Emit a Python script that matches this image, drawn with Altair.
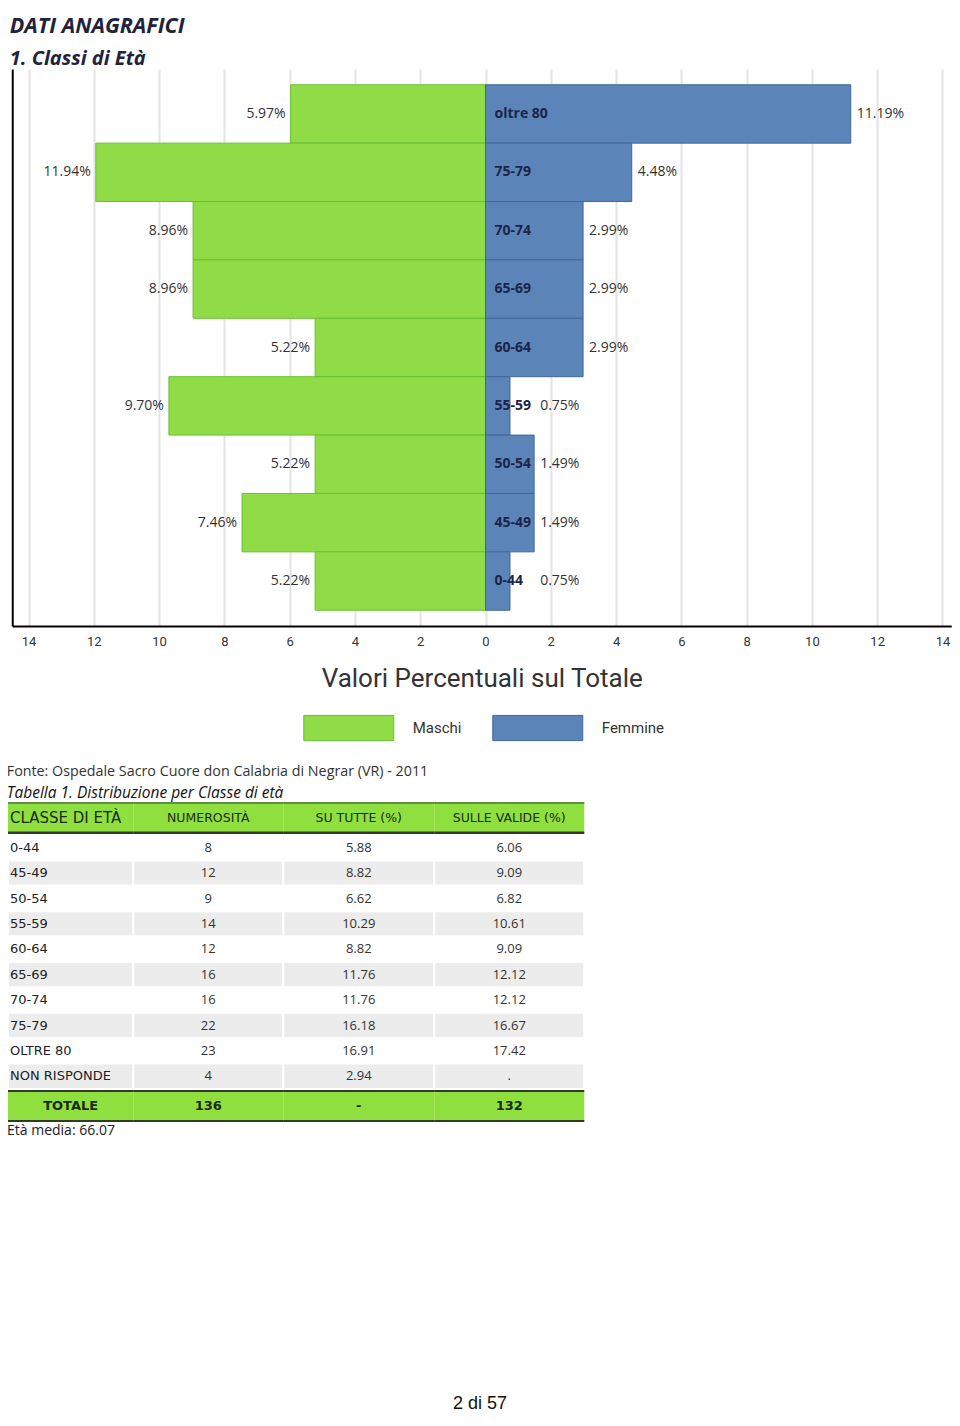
import altair as alt
import pandas as pd

# ---------------- data ----------------
age_classes = ["oltre 80", "75-79", "70-74", "65-69", "60-64", "55-59", "50-54", "45-49", "0-44"]
maschi_pct = [5.97, 11.94, 8.96, 8.96, 5.22, 9.70, 5.22, 7.46, 5.22]
femmine_pct = [11.19, 4.48, 2.99, 2.99, 2.99, 0.75, 1.49, 1.49, 0.75]
series = ["Maschi", "Femmine"]
x_tick_values = [-14, -12, -10, -8, -6, -4, -2, 0, 2, 4, 6, 8, 10, 12, 14]

table_headers = ["CLASSE DI ETÀ", "NUMEROSITÀ", "SU TUTTE (%)", "SULLE VALIDE (%)"]
table_classes = ["0-44", "45-49", "50-54", "55-59", "60-64", "65-69", "70-74", "75-79", "OLTRE 80", "NON RISPONDE"]
table_counts = ["8", "12", "9", "14", "12", "16", "16", "22", "23", "4"]
table_pct_all = ["5.88", "8.82", "6.62", "10.29", "8.82", "11.76", "11.76", "16.18", "16.91", "2.94"]
table_pct_valid = ["6.06", "9.09", "6.82", "10.61", "9.09", "12.12", "12.12", "16.67", "17.42", "."]
table_total = ["TOTALE", "136", "-", "132"]

page_title = "DATI ANAGRAFICI"
section_title = "1. Classi di Età"
axis_title = "Valori Percentuali sul Totale"
source_note = "Fonte: Ospedale Sacro Cuore don Calabria di Negrar (VR) - 2011"
table_caption = "Tabella 1. Distribuzione per Classe di età"
mean_age_note = "Età media: 66.07"
page_footer = "2 di 57"

# ---------------- styles ----------------
GREEN = "#8fdc46"
GREEN_EDGE = "#6bbf33"
BLUE = "#5b84b8"
BLUE_EDGE = "#40679c"
TABLE_GREEN = "#8fe03e"
ROW_GRAY = "#ececec"
FONT_UI = "Open Sans"
FONT_COND = "Roboto"
FONT_HEAD = "Open Sans"
FONT_TABLE = "Open Sans"
FONT_TABLE_CAPS = "DejaVu Sans"

W = 944
H = 557
LEG_H = 74
TW = 576
HDR_H = 32
BODY_H = 254
TOT_H = 32
FOOT_H = 257

# ---------------- pyramid ----------------
pyr_df = pd.DataFrame(
    [{"cls": c, "sex": "Maschi", "value": v} for c, v in zip(age_classes, maschi_pct)]
    + [{"cls": c, "sex": "Femmine", "value": v} for c, v in zip(age_classes, femmine_pct)]
)

xscale = alt.Scale(domain=[-14.5, 14.27], range=[4.25, 943.25], nice=False, zero=False)
yscale = alt.Scale(domain=age_classes, paddingInner=0, paddingOuter=0.27)
color_scale = alt.Scale(domain=series, range=[GREEN, BLUE])
stroke_scale = alt.Scale(domain=series, range=[GREEN_EDGE, BLUE_EDGE])

x_axis = alt.Axis(
    values=x_tick_values, labelExpr="abs(datum.value)",
    grid=True, gridColor="#e4e4e4", gridWidth=2,
    ticks=False, tickSize=0, domain=True, domainColor="#000000", domainWidth=2,
    labelFont=FONT_COND, labelFontSize=13, labelColor="#333333", labelPadding=9,
    title=axis_title, titleFont=FONT_COND, titleFontSize=26, titleFontWeight="normal",
    titleColor="#333333", titlePadding=17,
)
y_enc = alt.Y(
    "cls:N", scale=yscale, sort=age_classes,
    axis=alt.Axis(labels=False, ticks=False, title=None, grid=False,
                  domainColor="#000000", domainWidth=2, offset=-4.25),
)

base = alt.Chart(pyr_df).transform_calculate(
    signed="datum.sex === 'Maschi' ? -datum.value : datum.value",
    label="format(datum.value, '.2f') + '%'",
    lx="max(datum.value, 1.49)",
)

bars = base.mark_bar(strokeWidth=1).encode(
    x=alt.X("signed:Q", scale=xscale, axis=x_axis),
    x2=alt.datum(0),
    y=y_enc,
    color=alt.Color("sex:N", scale=color_scale, legend=None),
    stroke=alt.Stroke("sex:N", scale=stroke_scale, legend=None),
)

m_labels = base.transform_filter("datum.sex === 'Maschi'").mark_text(
    align="right", baseline="middle", dx=-5, font=FONT_UI, fontSize=14, color="#333333"
).encode(x=alt.X("signed:Q", scale=xscale, axis=x_axis), y=y_enc, text="label:N")

f_cls = base.transform_filter("datum.sex === 'Femmine'").mark_text(
    align="left", baseline="middle", dx=9, font=FONT_UI, fontSize=14,
    fontWeight="bold", color="#1d2448"
).encode(x=alt.datum(0), y=y_enc, text="cls:N")

f_pct = base.transform_filter("datum.sex === 'Femmine'").mark_text(
    align="left", baseline="middle", dx=6, font=FONT_UI, fontSize=14, color="#333333"
).encode(x=alt.X("lx:Q", scale=xscale, axis=x_axis), y=y_enc, text="label:N")

pyramid = alt.layer(bars, m_labels, f_cls, f_pct).properties(width=W, height=H)

# ---------------- legend ----------------
leg_df = pd.DataFrame({"sex": series})
leg_x = alt.X("sex:N", sort=series,
              scale=alt.Scale(type="point", domain=series, range=[340.75, 529.75], padding=0),
              axis=None)
swatch = alt.Chart(leg_df).mark_point(
    shape="M-1,-0.28H1V0.28H-1Z", size=8100, filled=True, opacity=1, strokeWidth=1
).encode(
    x=leg_x,
    fill=alt.Fill("sex:N", scale=color_scale, legend=None),
    stroke=alt.Stroke("sex:N", scale=stroke_scale, legend=None),
)
leg_text = alt.Chart(leg_df).mark_text(
    align="left", baseline="middle", dx=64, font=FONT_COND, fontSize=15, color="#333333"
).encode(x=leg_x, text="sex:N")
legend = alt.layer(swatch, leg_text).properties(width=W, height=LEG_H)

# ---------------- table ----------------
col_scale = alt.Scale(domain=[0, 1, 2, 3, 4], range=[0, 125.25, 275.25, 426.25, 576.25],
                      zero=False, nice=False)


def cells(rows, keys):
    recs = []
    for i, (key, row) in enumerate(zip(keys, rows)):
        for j, txt in enumerate(row):
            recs.append({"row": key, "ri": i, "ci": j, "text": txt})
    return pd.DataFrame(recs)


def cell_base(df):
    return alt.Chart(df).transform_calculate(
        c0="datum.ci", c1="datum.ci + 1", cm="datum.ci + 0.5"
    )


# header strip
hdr = cell_base(cells([table_headers], ["header"]))
hdr_rect = hdr.mark_rect(color=TABLE_GREEN).encode(
    x=alt.X("c0:Q", scale=col_scale, axis=None), x2="c1:Q")
hdr_top = hdr.mark_rule(color="#5f8f45", strokeWidth=2).encode(
    x=alt.X("c0:Q", scale=col_scale, axis=None), x2="c1:Q", y=alt.value(1))
hdr_bot = hdr.mark_rule(color="#2f3a2c", strokeWidth=2.5).encode(
    x=alt.X("c0:Q", scale=col_scale, axis=None), x2="c1:Q", y=alt.value(HDR_H - 1.25))
hdr_t0 = hdr.transform_filter("datum.ci == 0").mark_text(
    align="left", baseline="middle", dx=2, font=FONT_TABLE_CAPS, fontSize=15, color="#1a2a12"
).encode(x=alt.X("c0:Q", scale=col_scale, axis=None), text="text:N")
hdr_tn = hdr.transform_filter("datum.ci > 0").mark_text(
    align="center", baseline="middle", font=FONT_TABLE_CAPS, fontSize=12.5, color="#1a2a12"
).encode(x=alt.X("cm:Q", scale=col_scale, axis=None), text="text:N")
header = alt.layer(hdr_rect, hdr_top, hdr_bot, hdr_t0, hdr_tn).properties(
    width=TW, height=HDR_H,
    title=alt.Title(
        source_note, subtitle=table_caption, anchor="start",
        font=FONT_TABLE, fontSize=14.3, fontWeight="normal", color="#333333",
        subtitleFont=FONT_TABLE, subtitleFontSize=15.5, subtitleFontStyle="italic",
        subtitleColor="#111111", subtitlePadding=6, offset=1,
    ),
)

# body
body_rows = [list(r) for r in zip(table_classes, table_counts, table_pct_all, table_pct_valid)]
body = cell_base(cells(body_rows, table_classes))
body_y = alt.Y("row:N", sort=table_classes,
               scale=alt.Scale(domain=table_classes, paddingInner=0, paddingOuter=0), axis=None)
body_rect = body.mark_rect(stroke="white", strokeWidth=2).encode(
    x=alt.X("c0:Q", scale=col_scale, axis=None), x2="c1:Q", y=body_y,
    fill=alt.condition("datum.ri % 2 == 1", alt.value(ROW_GRAY), alt.value("white")),
)
body_t0 = body.transform_filter("datum.ci == 0").mark_text(
    align="left", baseline="middle", dx=2, font=FONT_TABLE_CAPS, fontSize=13, color="#222222"
).encode(x=alt.X("c0:Q", scale=col_scale, axis=None), y=body_y, text="text:N")
body_tn = body.transform_filter("datum.ci > 0").mark_text(
    align="center", baseline="middle", font=FONT_TABLE, fontSize=13, color="#333333"
).encode(x=alt.X("cm:Q", scale=col_scale, axis=None), y=body_y, text="text:N")
table_body = alt.layer(body_rect, body_t0, body_tn).properties(width=TW, height=BODY_H)

# total strip
tot = cell_base(cells([table_total], ["total"]))
tot_rect = tot.mark_rect(color=TABLE_GREEN).encode(
    x=alt.X("c0:Q", scale=col_scale, axis=None), x2="c1:Q")
tot_top = tot.mark_rule(color="#2f3a2c", strokeWidth=2).encode(
    x=alt.X("c0:Q", scale=col_scale, axis=None), x2="c1:Q", y=alt.value(1))
tot_bot = tot.mark_rule(color="#2f3a2c", strokeWidth=2).encode(
    x=alt.X("c0:Q", scale=col_scale, axis=None), x2="c1:Q", y=alt.value(TOT_H - 1))
tot_t = tot.mark_text(
    align="center", baseline="middle", font=FONT_TABLE_CAPS, fontSize=13,
    fontWeight="bold", color="#1a2a12"
).encode(x=alt.X("cm:Q", scale=col_scale, axis=None), text="text:N")
total = alt.layer(tot_rect, tot_top, tot_bot, tot_t).properties(
    width=TW, height=TOT_H,
    title=alt.Title(mean_age_note, orient="bottom", anchor="start", font=FONT_TABLE,
                    fontSize=14, fontWeight="normal", color="#222222", offset=2),
)

# page footer
footer = alt.Chart(pd.DataFrame({"t": [page_footer]})).mark_point(opacity=0).properties(
    width=944, height=FOOT_H,
    title=alt.Title(page_footer, orient="bottom", anchor="middle",
                    font="Liberation Sans", fontSize=18, fontWeight="normal",
                    color="#111111", offset=0),
)

chart = alt.vconcat(
    pyramid, legend, header, table_body, total, footer, spacing=0
).properties(
    title=alt.Title(
        page_title, subtitle=section_title, anchor="start", dx=3,
        font=FONT_HEAD, fontSize=21.5, fontStyle="italic", fontWeight="bold", color="#22223a",
        subtitleFont=FONT_HEAD, subtitleFontSize=20, subtitleFontStyle="italic",
        subtitleFontWeight="bold", subtitleColor="#22223a", subtitlePadding=12, offset=0,
    ),
    padding={"left": -2, "top": 7, "right": 0, "bottom": 0},
).configure_view(stroke=None)

chart.save("out.html", embed_options={"renderer": "svg", "actions": False})
